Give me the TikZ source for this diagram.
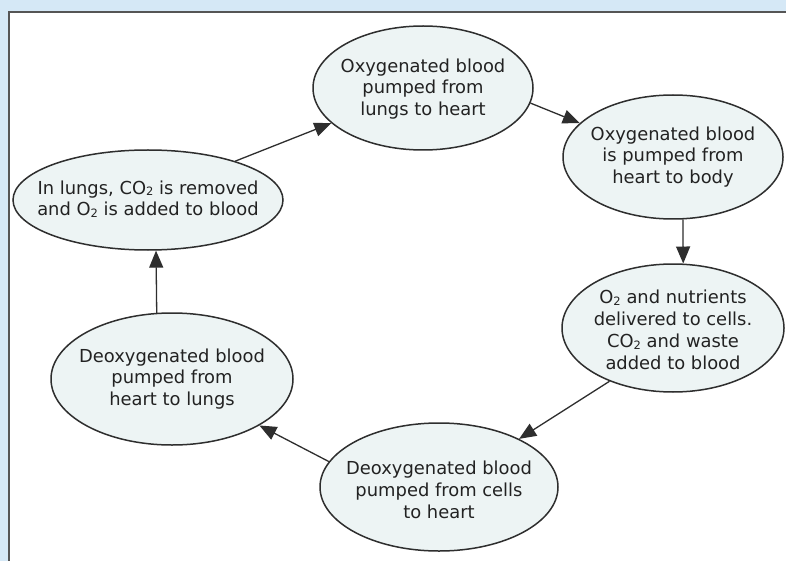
\documentclass[tikz,border=0pt]{standalone}
\usepackage{fontspec}
\setmainfont{DejaVu Sans}
\usetikzlibrary{shapes.geometric,arrows.meta}
\definecolor{outerblue}{HTML}{D5E8F6}
\definecolor{ellfill}{HTML}{EDF4F4}
\definecolor{linegray}{HTML}{2E2E2E}
\definecolor{framegray}{HTML}{555555}
\definecolor{txtgray}{HTML}{222222}
\newcommand\lowtwo{\raisebox{-1.5pt}{\fontsize{11.5pt}{11.5pt}\selectfont 2}}
\begin{document}
\begin{tikzpicture}[x=1pt,y=-1pt,
  ell/.style={ellipse, draw=linegray, line width=1.5pt, fill=ellfill, inner sep=0pt},
  txt/.style={align=center, text=txtgray, font=\fontsize{17.9pt}{21.8pt}\selectfont, inner sep=0pt},
  conn/.style={draw=linegray, line width=1.3pt, -{Triangle[length=17pt,width=14pt]}}]
\useasboundingbox (0,0) rectangle (786,561);
\fill[outerblue] (0,0) rectangle (786,561);
\fill[white] (9,12) rectangle (786,561);
\draw[framegray, line width=1.6pt] (9,561) -- (9,12) -- (786,12);

\node[ell, minimum width=220pt, minimum height=124pt] (T) at (423,88) {};
\node[txt] (Tt) at ([yshift=-1pt]T.center) {Oxygenated blood\\pumped from\\lungs to heart};

\node[ell, minimum width=220pt, minimum height=124pt] (RT) at (673,157) {};
\node[txt] (RTt) at (RT) {Oxygenated blood\\is pumped from\\heart to body};

\node[ell, minimum width=222pt, minimum height=128pt] (RM) at (673,328) {};
\node[txt] (RMt) at ([yshift=-2pt]RM.center) {O\lowtwo{} and nutrients\\delivered to cells.\\CO\lowtwo{} and waste\\added to blood};

\node[ell, minimum width=238pt, minimum height=128pt] (B) at (439,487) {};
\node[txt] (Bt) at ([yshift=-3pt]B.center) {Deoxygenated blood\\pumped from cells\\to heart};

\node[ell, minimum width=242pt, minimum height=132pt] (LM) at (172,379) {};
\node[txt] (LMt) at (LM) {Deoxygenated blood\\pumped from\\heart to lungs};

\node[ell, minimum width=270pt, minimum height=100pt] (L) at (148,200) {};
\node[txt] (Lt) at ([yshift=1pt]L.center) {In lungs, CO\lowtwo{} is removed\\and O\lowtwo{} is added to blood};

\draw[conn] (L.24) -- (T.201);
\draw[conn] (T.-8) -- (RT.160);
\draw[conn] (RT.-81) -- (RM.81);
\draw[conn] (RM.220) -- (B.31);
\draw[conn] (B.167) -- (LM.-28);
\draw[conn] (LM.103) -- (L.-81);
\end{tikzpicture}
\end{document}
